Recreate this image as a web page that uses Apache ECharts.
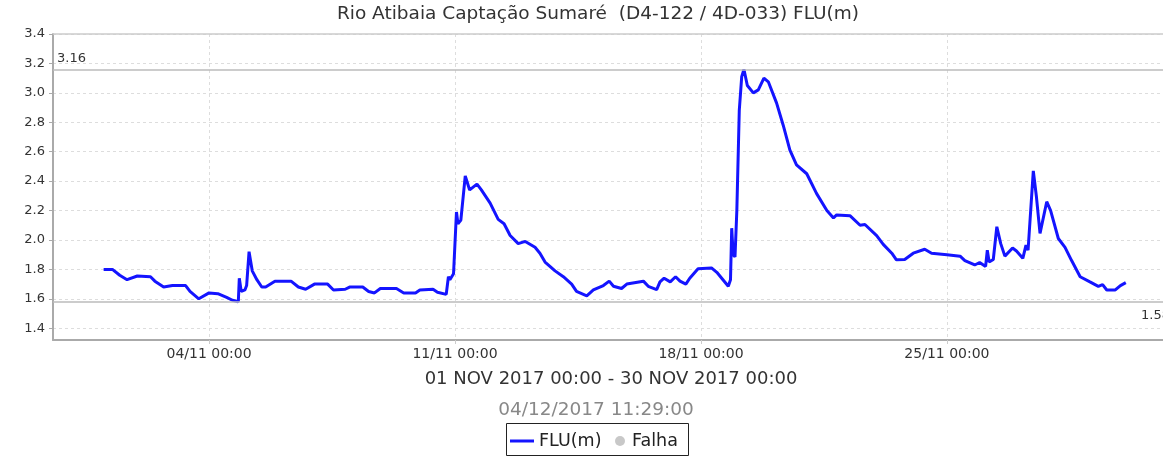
<!DOCTYPE html>
<html>
<head>
<meta charset="utf-8">
<script src="https://cdn.jsdelivr.net/npm/echarts@6/dist/echarts.min.js"></script>
<style>
  html, body { margin: 0; padding: 0; background: #fff; }
  #chart { width: 1163px; height: 457px; }
</style>
</head>
<body>
<div id="chart"></div>
<script>
// FLU(m) readings, Rio Atibaia Captação Sumaré, Nov 2017
const fluTimes = [
  '2017-11-01 00:00', '2017-11-01 06:00', '2017-11-01 11:00', '2017-11-01 16:00', '2017-11-01 23:00',
  '2017-11-02 08:00', '2017-11-02 11:00', '2017-11-02 17:00', '2017-11-02 23:00',
  '2017-11-03 08:00', '2017-11-03 11:00', '2017-11-03 17:00',
  '2017-11-04 00:00', '2017-11-04 06:00', '2017-11-04 12:00', '2017-11-04 16:00', '2017-11-04 20:00',
  '2017-11-04 20:40', '2017-11-04 22:00',
  '2017-11-05 00:30', '2017-11-05 01:40', '2017-11-05 03:20', '2017-11-05 05:30', '2017-11-05 08:40',
  '2017-11-05 12:00', '2017-11-05 14:40', '2017-11-05 21:00',
  '2017-11-06 08:00', '2017-11-06 13:00', '2017-11-06 18:00',
  '2017-11-07 00:00', '2017-11-07 09:00', '2017-11-07 13:00', '2017-11-07 21:00',
  '2017-11-08 00:00', '2017-11-08 09:00', '2017-11-08 13:00', '2017-11-08 17:00', '2017-11-08 21:00',
  '2017-11-09 08:00', '2017-11-09 13:00', '2017-11-09 21:00',
  '2017-11-10 00:00', '2017-11-10 09:00', '2017-11-10 12:00', '2017-11-10 18:00', '2017-11-10 19:30',
  '2017-11-10 20:30', '2017-11-10 23:00',
  '2017-11-11 00:00', '2017-11-11 01:00', '2017-11-11 02:00', '2017-11-11 04:00', '2017-11-11 07:00',
  '2017-11-11 10:00', '2017-11-11 15:00', '2017-11-11 18:00',
  '2017-11-12 00:00', '2017-11-12 05:30', '2017-11-12 09:30', '2017-11-12 13:40', '2017-11-12 19:10',
  '2017-11-13 00:00', '2017-11-13 06:40', '2017-11-13 10:00', '2017-11-13 13:30', '2017-11-13 20:20',
  '2017-11-14 02:00', '2017-11-14 07:40', '2017-11-14 11:00', '2017-11-14 18:00', '2017-11-14 22:30',
  '2017-11-15 05:20', '2017-11-15 09:20', '2017-11-15 12:15', '2017-11-15 17:45', '2017-11-15 21:20',
  '2017-11-16 08:40', '2017-11-16 12:00', '2017-11-16 17:45', '2017-11-16 20:00', '2017-11-16 22:50',
  '2017-11-17 03:00', '2017-11-17 06:40', '2017-11-17 09:40', '2017-11-17 13:40', '2017-11-17 16:20',
  '2017-11-17 22:00',
  '2017-11-18 07:10', '2017-11-18 10:50', '2017-11-18 14:10', '2017-11-18 18:40', '2017-11-18 20:10',
  '2017-11-18 21:00', '2017-11-18 22:00', '2017-11-18 23:15',
  '2017-11-19 00:30', '2017-11-19 02:10', '2017-11-19 03:50', '2017-11-19 05:20', '2017-11-19 07:40',
  '2017-11-19 11:45', '2017-11-19 15:10', '2017-11-19 19:00', '2017-11-19 22:00',
  '2017-11-20 03:40', '2017-11-20 08:10', '2017-11-20 12:45', '2017-11-20 17:15',
  '2017-11-21 00:15', '2017-11-21 07:00', '2017-11-21 14:00', '2017-11-21 18:30', '2017-11-21 20:40',
  '2017-11-22 05:45', '2017-11-22 12:40', '2017-11-22 16:00',
  '2017-11-23 00:00', '2017-11-23 04:30', '2017-11-23 10:20', '2017-11-23 13:30', '2017-11-23 19:10',
  '2017-11-24 01:00', '2017-11-24 08:50', '2017-11-24 13:30',
  '2017-11-25 00:00', '2017-11-25 09:00', '2017-11-25 12:15', '2017-11-25 19:00', '2017-11-25 22:20',
  '2017-11-26 02:25', '2017-11-26 03:35', '2017-11-26 04:50', '2017-11-26 07:40', '2017-11-26 10:05',
  '2017-11-26 12:45', '2017-11-26 15:35', '2017-11-26 20:50', '2017-11-26 23:30',
  '2017-11-27 03:50', '2017-11-27 06:00', '2017-11-27 07:25', '2017-11-27 11:00', '2017-11-27 13:10',
  '2017-11-27 15:35', '2017-11-27 20:10', '2017-11-27 22:50',
  '2017-11-28 04:05', '2017-11-28 08:40', '2017-11-28 13:10', '2017-11-28 19:00',
  '2017-11-29 01:40', '2017-11-29 07:25', '2017-11-29 10:20', '2017-11-29 13:10', '2017-11-29 19:00',
  '2017-11-29 22:30',
  '2017-11-30 02:10'
];
const fluValues = [
  1.80, 1.80, 1.76, 1.73, 1.755,
  1.75, 1.72, 1.68, 1.69,
  1.69, 1.65, 1.60,
  1.64, 1.635, 1.61, 1.59, 1.58,
  1.74, 1.65,
  1.66, 1.69, 1.92, 1.79, 1.73,
  1.68, 1.68, 1.72,
  1.72, 1.68, 1.665,
  1.70, 1.70, 1.66, 1.665,
  1.68, 1.68, 1.65, 1.64, 1.67,
  1.67, 1.64, 1.64,
  1.66, 1.665, 1.645, 1.63, 1.75,
  1.73, 1.77,
  1.78, 2.19, 2.11, 2.135, 2.435,
  2.34, 2.38, 2.34,
  2.25, 2.14, 2.11, 2.03, 1.975,
  1.99, 1.95, 1.91, 1.85, 1.79,
  1.75, 1.70, 1.65, 1.62, 1.66,
  1.69, 1.72, 1.685, 1.67, 1.70,
  1.72, 1.685, 1.663, 1.715, 1.74,
  1.715, 1.75, 1.72, 1.70, 1.74,
  1.805,
  1.81, 1.78, 1.74, 1.685, 1.73,
  2.08, 1.90, 1.885,
  2.20, 2.88, 3.11, 3.16, 3.05,
  3.00, 3.02, 3.10, 3.075,
  2.93, 2.78, 2.61, 2.51,
  2.45, 2.315, 2.20, 2.15, 2.17,
  2.165, 2.10, 2.105,
  2.03, 1.97, 1.91, 1.865, 1.867,
  1.91, 1.937, 1.91,
  1.90, 1.89, 1.86, 1.83, 1.847,
  1.82, 1.93, 1.85, 1.867, 2.09,
  1.975, 1.89, 1.945, 1.925,
  1.875, 1.965, 1.93, 2.47, 2.29,
  2.045, 2.26, 2.20,
  2.01, 1.95, 1.86, 1.75,
  1.715, 1.685, 1.697, 1.66, 1.66,
  1.69,
  1.71
];
const xTickLabels = ['2017-11-04 00:00', '2017-11-11 00:00', '2017-11-18 00:00', '2017-11-25 00:00'];
const yTickLabels = [1.4, 1.6, 1.8, 2.0, 2.2, 2.4, 2.6, 2.8, 3.0, 3.2, 3.4];

const FONT = 'DejaVu Sans';
const BLUE = '#1414ff';
const chart = echarts.init(document.getElementById('chart'));

const parseTime = s => new Date(s.replace(' ', 'T')).getTime();
const xTicks = xTickLabels.map(parseTime);

chart.setOption({
  animation: false,
  textStyle: { fontFamily: FONT },
  graphic: [
    {
      type: 'text', top: 5,
      style: { text: 'Rio Atibaia Captação Sumaré  (D4-122 / 4D-033) FLU(m)', fontSize: 18.5, fontFamily: FONT, fill: '#333', x: 598, textAlign: 'center' }
    },
    {
      type: 'text', top: 370,
      style: { text: '01 NOV 2017 00:00 - 30 NOV 2017 00:00', fontSize: 18, fontFamily: FONT, fill: '#333', x: 611, textAlign: 'center' }
    },
    {
      type: 'text', top: 401,
      style: { text: '04/12/2017 11:29:00', fontSize: 18.5, fontFamily: FONT, fill: '#888', x: 596, textAlign: 'center' }
    },
    {
      type: 'rect',
      shape: { x: 506.5, y: 423.5, width: 182, height: 32 },
      style: { fill: 'none', stroke: '#222', lineWidth: 1 }
    }
  ],
  legend: [
    {
      left: 505,
      top: 427,
      padding: 5,
      itemWidth: 24,
      itemHeight: 3,
      icon: 'rect',
      textStyle: { fontSize: 17.5, color: '#222', fontFamily: FONT },
      data: ['FLU(m)']
    },
    {
      left: 610,
      top: 427,
      padding: 5,
      itemWidth: 10,
      itemHeight: 10,
      icon: 'circle',
      textStyle: { fontSize: 17.5, color: '#222', fontFamily: FONT, padding: [0, 0, 0, 2] },
      data: ['Falha']
    }
  ],
  grid: { left: 53, top: 34, right: 0, bottom: 117 },
  xAxis: [
    {
      type: 'time',
      min: parseTime('2017-10-30 13:25'),
      max: parseTime('2017-12-01 03:35'),
      axisLine: { lineStyle: { color: '#aaa', width: 2 } },
      axisTick: { show: true, length: 4, customValues: xTicks, lineStyle: { color: '#ccc' } },
      axisLabel: {
        customValues: xTicks,
        formatter: '{dd}/{MM} {HH}:{mm}',
        fontSize: 14, color: '#333', fontFamily: FONT, margin: 7
      },
      splitLine: { show: true, lineStyle: { color: '#ddd', type: [3, 3] } }
    },
    {
      type: 'time',
      position: 'top',
      min: parseTime('2017-10-30 13:25'),
      max: parseTime('2017-12-01 03:35'),
      axisLine: { show: true, lineStyle: { color: '#ccc', width: 1.5 } },
      axisTick: { show: false },
      axisLabel: { show: false },
      splitLine: { show: false }
    }
  ],
  yAxis: {
    type: 'value',
    min: 1.32,
    max: 3.4,
    axisLine: { show: true, lineStyle: { color: '#aaa', width: 2 } },
    axisTick: { show: true, length: 4, customValues: yTickLabels, lineStyle: { color: '#aaa' } },
    axisLabel: {
      customValues: yTickLabels,
      formatter: v => v.toFixed(1),
      fontSize: 13, color: '#333', fontFamily: FONT, margin: 8
    },
    splitLine: { show: true, lineStyle: { color: '#ddd', type: [3, 3] } }
  },
  series: [
    {
      name: 'FLU(m)',
      type: 'line',
      symbol: 'none',
      data: fluTimes.map((t, i) => [parseTime(t), fluValues[i]]),
      lineStyle: { color: BLUE, width: 3 },
      itemStyle: { color: BLUE },
      markLine: {
        silent: true,
        symbol: 'none',
        lineStyle: { color: '#bbb', type: 'solid', width: 1.5 },
        label: { fontSize: 13, color: '#333', fontFamily: FONT, formatter: p => p.value.toFixed(2) },
        data: [
          { type: 'max', label: { position: 'insideStartTop', distance: [4, 4] } },
          { type: 'min', label: { position: 'insideStartBottom', distance: [1088, 7] } }
        ]
      }
    },
    {
      name: 'Falha',
      type: 'line',
      symbol: 'circle',
      itemStyle: { color: '#c8c8c8' },
      data: []
    }
  ]
});
</script>
</body>
</html>
